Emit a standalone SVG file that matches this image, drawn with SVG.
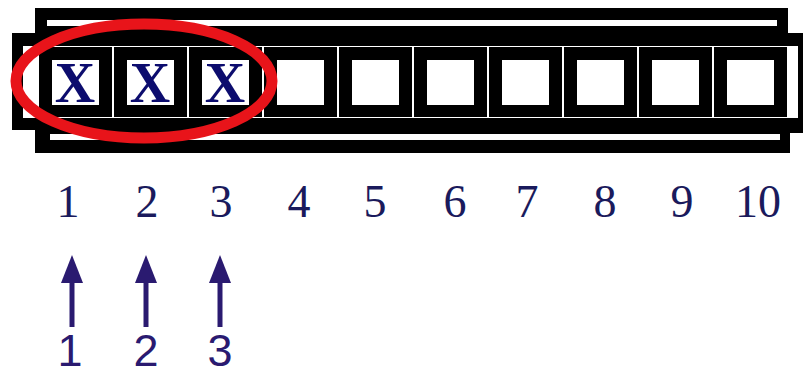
<svg xmlns="http://www.w3.org/2000/svg" width="803" height="367" viewBox="0 0 803 367">
<style>
.blk{fill:#000}
.wht{fill:#fff}
.num{font-family:"Liberation Serif","Times New Roman",serif;font-size:46px;fill:#1a1a5c;text-anchor:middle}
.xm{font-family:"Liberation Serif","Times New Roman",serif;font-weight:bold;font-size:56px;fill:#0c0c6e;text-anchor:middle}
.lbl{font-family:"Liberation Sans",Arial,sans-serif;font-size:45px;fill:#2a1a70;text-anchor:middle}
.arr{stroke:#2a1a70;stroke-width:5;fill:none}
</style>
<defs>
<marker id="head" markerUnits="userSpaceOnUse" markerWidth="28" markerHeight="22" viewBox="0 0 28 22" refX="0" refY="11" orient="auto">
<path d="M0,0 L28,11 L0,22 Z" fill="#2a1a70"/>
</marker>
<g id="cellShape">
<rect class="blk" x="0" y="47" width="73" height="70"/>
<rect class="wht" x="13" y="60" width="47" height="45"/>
</g>
</defs>
<rect width="803" height="367" fill="#fff"/>
<g id="frame">
<polygon class="blk" points="35,8 788,8 788,33 803,33 803,133 790,133 790,153 35,153 35,130 12,130 12,33 35,33"/>
<rect class="wht" x="47" y="20" width="730" height="6"/>
<rect class="wht" x="50" y="134" width="730" height="6"/>
<rect class="wht" x="23" y="46" width="775" height="72"/>
</g>
<g id="cell1"><use href="#cellShape" x="39"/><text class="xm" x="75" y="102">X</text></g>
<g id="cell2"><use href="#cellShape" x="114"/><text class="xm" x="150" y="102">X</text></g>
<g id="cell3"><use href="#cellShape" x="189"/><text class="xm" x="225" y="102">X</text></g>
<g id="cell4"><use href="#cellShape" x="264"/></g>
<g id="cell5"><use href="#cellShape" x="339"/></g>
<g id="cell6"><use href="#cellShape" x="414"/></g>
<g id="cell7"><use href="#cellShape" x="489"/></g>
<g id="cell8"><use href="#cellShape" x="564"/></g>
<g id="cell9"><use href="#cellShape" x="639"/></g>
<g id="cell10"><use href="#cellShape" x="714"/></g>
<g id="highlight">
<ellipse cx="144" cy="81" rx="128" ry="57" fill="none" stroke="#e8141a" stroke-width="11"/>
</g>
<g id="numbers">
<text class="num" x="68" y="217">1</text>
<text class="num" x="147" y="217">2</text>
<text class="num" x="221" y="217">3</text>
<text class="num" x="299" y="217">4</text>
<text class="num" x="375" y="217">5</text>
<text class="num" x="455" y="217">6</text>
<text class="num" x="527" y="217">7</text>
<text class="num" x="605" y="217">8</text>
<text class="num" x="682" y="217">9</text>
<text class="num" x="758" y="217">10</text>
</g>
<g id="connectors">
<line class="arr" x1="72" y1="327" x2="72" y2="283" marker-end="url(#head)"/>
<line class="arr" x1="146" y1="327" x2="146" y2="283" marker-end="url(#head)"/>
<line class="arr" x1="220" y1="327" x2="220" y2="283" marker-end="url(#head)"/>
</g>
<g id="labels">
<text class="lbl" x="70" y="366">1</text>
<text class="lbl" x="146" y="366">2</text>
<text class="lbl" x="220" y="366">3</text>
</g>
</svg>
